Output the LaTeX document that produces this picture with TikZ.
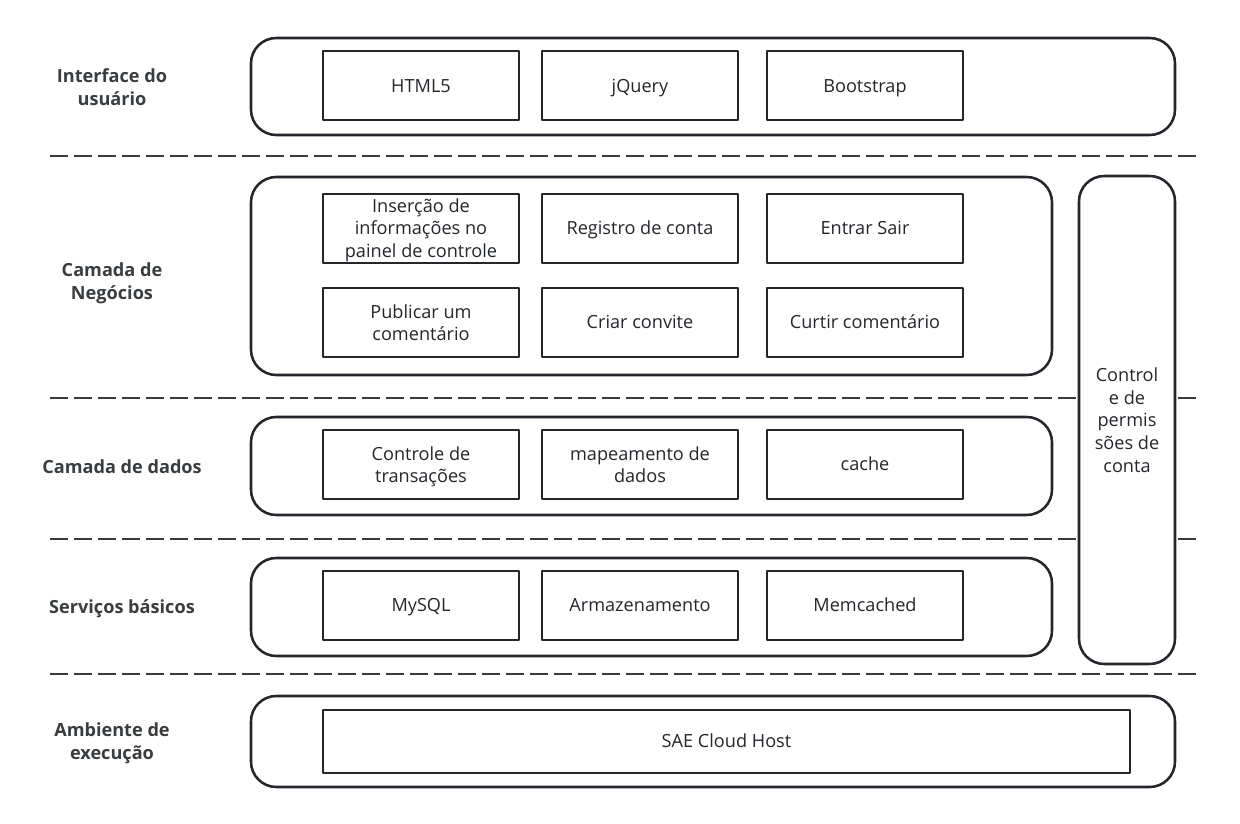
\documentclass[tikz,border=0pt]{standalone}
\usepackage{fontspec}
\setmainfont{Open Sans}
\definecolor{ink}{HTML}{23272B}
\definecolor{sepgray}{HTML}{3A3A3A}
\begin{document}
\begin{tikzpicture}[x=0.75pt,y=-0.75pt,line join=round,
  every node/.style={font=\fontsize{13.6}{17}\selectfont,text=ink,align=center,inner sep=0pt},
  layer/.style={draw=ink,fill=white,line width=1.9pt,rounded corners=19pt},
  item/.style={draw=ink,line width=1.5pt,minimum width=196*0.75pt,minimum height=69*0.75pt},
  one/.style={text height=13pt,text depth=3.4pt},
  multi/.style={text depth=0pt},
  tier/.style={font=\fontsize{13.6}{17}\selectfont\bfseries,text=ink!90},
  sepline/.style={draw=sepgray,line width=2.2pt,dash pattern=on 13.5pt off 4.5pt}]
  \useasboundingbox (0,0) rectangle (1240,824);
  % separators
  \draw[sepline] (50,156) -- (1202,156);
  \draw[sepline] (50,398) -- (1202,398);
  \draw[sepline] (50,539) -- (1202,539);
  \draw[sepline] (50,674) -- (1202,674);
  % layer frames
  \node[layer,minimum width=924*0.75pt,minimum height=97*0.75pt] (ui) at (713,86.5) {};
  \node[layer,minimum width=801*0.75pt,minimum height=198*0.75pt] (biz) at (651.5,276) {};
  \node[layer,minimum width=801*0.75pt,minimum height=98*0.75pt] (data) at (651.5,466) {};
  \node[layer,minimum width=801*0.75pt,minimum height=98*0.75pt] (base) at (651.5,607) {};
  \node[layer,minimum width=924*0.75pt,minimum height=91*0.75pt] (run) at (713,741.5) {};
  \node[layer,multi,minimum width=96*0.75pt,minimum height=488*0.75pt] (perm) at (1127,420)
    {Control\\e de\\permis\\sões de\\conta};
  % tier labels
  \node[tier,multi] (tui) at (112,87) {Interface do\\usuário};
  \node[tier,multi] (tbiz) at (112,281) {Camada de\\Negócios};
  \node[tier,one] (tdata) at (122,467) {Camada de dados};
  \node[tier,one] (tbase) at (122,607) {Serviços básicos};
  \node[tier,multi] (trun) at (112,741) {Ambiente de\\execução};
  % user interface
  \node[item,one] (html) at (421,86) {HTML5};
  \node[item,one] (jq) at (640,86) {jQuery};
  \node[item,one] (bs) at (865,86) {Bootstrap};
  % business
  \node[item,multi] (painel) at (421,228) {Inserção de\\informações no\\painel de controle};
  \node[item,one] (reg) at (640,228) {Registro de conta};
  \node[item,one] (login) at (865,228) {Entrar Sair};
  \node[item,multi] (pub) at (421,322.5) {Publicar um\\comentário};
  \node[item,one] (conv) at (640,322.5) {Criar convite};
  \node[item,one] (curtir) at (865,322.5) {Curtir comentário};
  % data
  \node[item,multi] (trans) at (421,464.5) {Controle de\\transações};
  \node[item,multi] (map) at (640,464.5) {mapeamento de\\dados};
  \node[item,one] (cache) at (865,464.5) {cache};
  % basic services
  \node[item,one] (mysql) at (421,605.5) {MySQL};
  \node[item,one] (store) at (640,605.5) {Armazenamento};
  \node[item,one] (memc) at (865,605.5) {Memcached};
  % runtime
  \node[item,one,minimum width=807*0.75pt,minimum height=63*0.75pt] (sae) at (726.5,741.5) {SAE Cloud Host};
\end{tikzpicture}
\end{document}
